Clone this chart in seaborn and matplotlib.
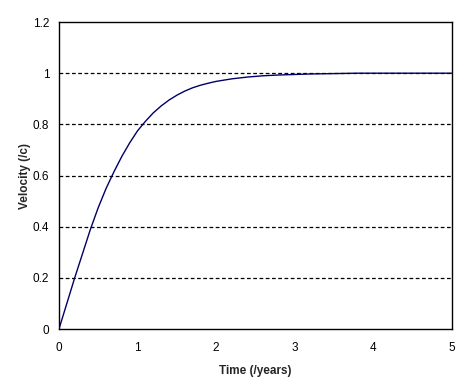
import matplotlib
matplotlib.use("Agg")
import matplotlib.pyplot as plt
import seaborn as sns
import pandas as pd

# valores (tempo em anos, velocidade em fração de c)
tempo = [0.0, 0.1, 0.2, 0.3, 0.4, 0.5, 0.6, 0.7, 0.8, 0.9, 1.0, 1.1, 1.2,
         1.3, 1.4, 1.5, 1.6, 1.7, 1.8, 1.9, 2.0, 2.2, 2.4, 2.6, 2.8, 3.0,
         3.2, 3.4, 3.6, 3.8, 4.0, 4.5, 5.0]
velocidade = [0.0, 0.10, 0.20, 0.295, 0.39, 0.475, 0.55, 0.615, 0.675,
              0.728, 0.775, 0.812, 0.845, 0.872, 0.895, 0.914, 0.93, 0.943,
              0.953, 0.961, 0.968, 0.978, 0.985, 0.99, 0.993, 0.995, 0.997,
              0.998, 0.999, 1.0, 1.0, 1.0, 1.0]

x_ticks = [0, 1, 2, 3, 4, 5]
y_ticks = [0, 0.2, 0.4, 0.6, 0.8, 1, 1.2]
y_labels = ["0", "0.2", "0.4", "0.6", "0.8", "1", "1.2"]


def main():
    df = pd.DataFrame({"tempo": tempo, "velocidade": velocidade})

    sns.set_style("white")
    plt.rcParams["font.family"] = ["Liberation Sans", "DejaVu Sans"]

    fig = plt.figure(figsize=(4.63, 3.8), dpi=100)
    ax = fig.add_axes([0.1274, 0.1342, 0.8488, 0.8078])

    # linhas de grade tracejadas
    for y in y_ticks[1:-1]:
        ax.axhline(y, color="black", linestyle=(0, (3, 2)), linewidth=0.9, zorder=1)

    sns.lineplot(data=df, x="tempo", y="velocidade", color="#000066",
                 linewidth=1.0, ax=ax, zorder=3)

    ax.set_xlim(0, 5)
    ax.set_ylim(0, 1.2)
    ax.set_xticks(x_ticks)
    ax.set_yticks(y_ticks)
    ax.set_yticklabels(y_labels)
    ax.tick_params(axis="both", direction="out", length=3, width=0.8,
                   labelsize=8.5, colors="black", pad=4)
    ax.tick_params(axis="x", pad=6)

    for s in ax.spines.values():
        s.set_color("black")
        s.set_linewidth(1.0)

    ax.set_xlabel("Time (/years)", fontsize=8.5, fontweight="bold", labelpad=8)
    ax.set_ylabel("Velocity (/c)", fontsize=8.5, fontweight="bold", labelpad=1)

    plt.savefig("out.png", dpi=100)


if __name__ == "__main__":
    main()
